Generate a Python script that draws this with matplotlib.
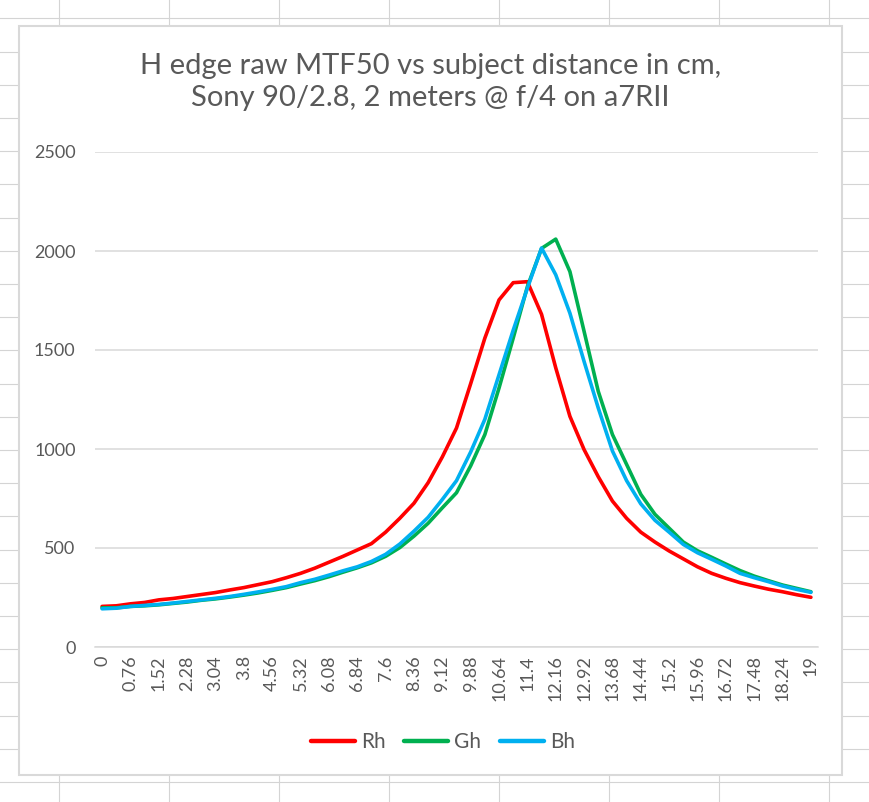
import matplotlib
matplotlib.use("Agg")
import matplotlib.pyplot as plt
from matplotlib.lines import Line2D
from matplotlib.patches import Rectangle

title = "H edge raw MTF50 vs subject distance in cm,\nSony 90/2.8, 2 meters @ f/4 on a7RII"
step = 0.38
n_points = 51
categories = [f"{round(step * i, 2):g}" for i in range(n_points)]

Rh = [205, 208, 218, 225, 238, 245, 255, 265, 275, 288,
      300, 315, 330, 350, 372, 398, 428, 458, 490, 522,
      580, 650, 726, 830, 960, 1106, 1330, 1560, 1753, 1840,
      1845, 1680, 1410, 1165, 997, 860, 737, 650, 580, 530,
      485, 445, 405, 372, 347, 325, 308, 292, 279, 264, 251]
Gh = [198, 198, 205, 208, 213, 220, 227, 236, 243, 252,
      262, 273, 286, 300, 318, 335, 355, 378, 400, 425,
      458, 502, 560, 625, 703, 779, 915, 1073, 1308, 1560,
      1820, 2013, 2060, 1896, 1594, 1291, 1073, 922, 771, 670,
      600, 530, 486, 453, 419, 386, 358, 335, 313, 296, 279]
Bh = [193, 196, 205, 210, 215, 222, 230, 238, 246, 255,
      266, 278, 291, 305, 325, 342, 363, 385, 405, 432,
      468, 520, 585, 655, 745, 840, 985, 1150, 1375, 1600,
      1812, 2015, 1880, 1686, 1442, 1207, 990, 840, 723, 640,
      580, 518, 476, 443, 409, 372, 350, 330, 308, 291, 276]
series_names = ["Rh", "Gh", "Bh"]
series_values = [Rh, Gh, Bh]
series_colors = ["#FF0000", "#00B050", "#00B0F0"]
y_ticks = [0, 500, 1000, 1500, 2000, 2500]

plt.rcParams['font.family'] = ['Lato', 'DejaVu Sans']
W, H = 870, 802
fig = plt.figure(figsize=(W / 100, H / 100), dpi=100)
fig.patch.set_facecolor("white")

# spreadsheet grid background
grid_c = "#D4D4D4"
x = 59
while x < W:
    fig.add_artist(Line2D([x / W, x / W], [0, 1], color=grid_c, lw=0.8, zorder=0))
    x += 110
y = 782.0
while y > 0:
    fig.add_artist(Line2D([0, 1], [1 - y / H, 1 - y / H], color=grid_c, lw=0.8, zorder=0))
    y -= 33.2

# chart area
fig.add_artist(Rectangle((19 / W, 1 - 775 / H), (842 - 19) / W, (775 - 26) / H,
                         transform=fig.transFigure, facecolor="white",
                         edgecolor="#D9D9D9", lw=1.5, zorder=1))

left, right = 95 / W, 818 / W
bottom, top = 1 - 647 / H, 1 - 152 / H
ax = fig.add_axes([left, bottom, right - left, top - bottom], zorder=2)
ax.set_facecolor("none")

xs = list(range(n_points))
for name, vals, col in zip(series_names, series_values, series_colors):
    ax.plot(xs, vals, color=col, lw=2.6, label=name, solid_joinstyle="round",
            solid_capstyle="round", zorder=3)

ax.set_xlim(-0.5, n_points - 0.5)
ax.set_ylim(0, 2500)
ax.set_yticks(y_ticks)
ax.set_yticklabels([str(v) for v in y_ticks])
ax.yaxis.grid(True, color="#D9D9D9", lw=1.1)
ax.set_axisbelow(True)
ax.set_xticks(xs[::2])
ax.set_xticklabels(categories[::2], rotation=90, ha="center", va="top")
for s in ["left", "right", "top"]:
    ax.spines[s].set_visible(False)
ax.spines["bottom"].set_color("#D9D9D9")
ax.spines["bottom"].set_linewidth(1.1)
ax.tick_params(axis="both", length=0, colors="#595959")
ax.tick_params(axis="y", pad=14, labelsize=13)
ax.tick_params(axis="x", pad=6, labelsize=13)

fig.text(0.5 * (19 + 842) / W, 1 - 82 / H, title, ha="center", va="center",
         fontsize=21, color="#595959", linespacing=1.3)

handles = [Line2D([], [], color=c, lw=3.2, solid_capstyle="round") for c in series_colors]
fig.legend(handles, series_names, loc="center", bbox_to_anchor=(443 / W, 1 - 742 / H),
           ncol=3, frameon=False, fontsize=15, labelcolor="#595959",
           handlelength=2.1, handletextpad=0.3, columnspacing=0.9)

fig.savefig("out.png", dpi=100, facecolor="white")
